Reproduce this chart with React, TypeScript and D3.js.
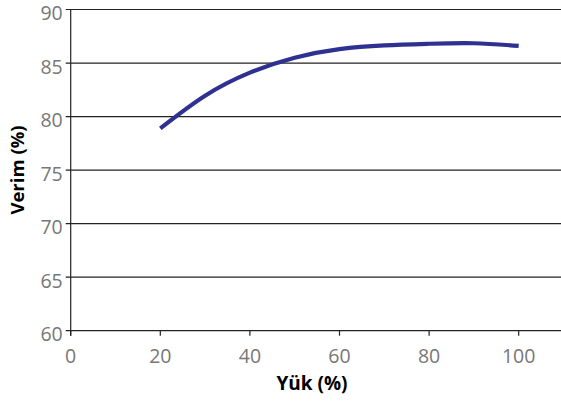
import React from "react";
import * as d3 from "d3";

const loadX = [20, 30, 40, 50, 60, 70, 80, 90, 100];
const efficiency = [78.9, 81.95, 84.1, 85.5, 86.3, 86.65, 86.8, 86.85, 86.6];
const xTicks = [0, 20, 40, 60, 80, 100];
const yTicks = [60, 65, 70, 75, 80, 85, 90];

export default function App() {
  const W = 561, H = 401;
  const left = 70.7, top = 9.5, bottom = 330.7;
  const x = d3.scaleLinear().domain([0, 20]).range([left, left + 89.6]);
  const y = d3.scaleLinear().domain([60, 90]).range([bottom, top]);
  const line = d3.line<number>()
    .x((_, i) => x(loadX[i]))
    .y((d) => y(d))
    .curve(d3.curveNatural);
  const font = "'Open Sans', 'Noto Sans', sans-serif";
  return (
    <svg width={W} height={H} style={{ position: "absolute", left: 0, top: 0 }}>
      <rect width={W} height={H} fill="#fff" />
      {yTicks.map((t) => (
        <g key={t}>
          <line x1={left - 5} x2={W} y1={y(t)} y2={y(t)} stroke="#222" strokeWidth={1.2} />
          <text x={left - 8} y={y(t) + 10.5} textAnchor="end" fontFamily={font} fontSize={19.5} fill="#777">{t}</text>
        </g>
      ))}
      <line x1={left} x2={left} y1={top} y2={bottom + 5} stroke="#222" strokeWidth={1.2} />
      {xTicks.map((t) => (
        <g key={t}>
          <line x1={x(t)} x2={x(t)} y1={bottom} y2={bottom + 5} stroke="#222" strokeWidth={1.2} />
          <text x={x(t)} y={363} textAnchor="middle" fontFamily={font} fontSize={19.5} fill="#777">{t}</text>
        </g>
      ))}
      <path d={line(efficiency) || ""} fill="none" stroke="#2e3192" strokeWidth={4.2} />
      <text x={312} y={390} textAnchor="middle" fontFamily={font} fontSize={19} fontWeight="bold" fill="#000">Yük (%)</text>
      <text transform={`translate(24,170) rotate(-90)`} textAnchor="middle" fontFamily={font} fontSize={18.5} fontWeight="bold" fill="#000">Verim (%)</text>
    </svg>
  );
}
